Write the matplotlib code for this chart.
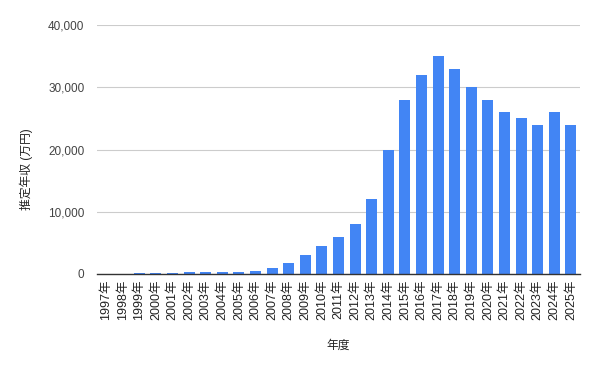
import numpy as np
import matplotlib
matplotlib.use('Agg')
import matplotlib.pyplot as plt
from matplotlib.ticker import FuncFormatter

plt.rcParams['font.family'] = ['Liberation Sans', 'Noto Sans CJK JP', 'DejaVu Sans']

years = [f"{y}年" for y in range(1997, 2026)]
income = [0, 0, 100, 100, 100, 300, 300, 300, 300, 500,
          1000, 1800, 3000, 4500, 6000, 8000, 12000, 20000, 28000, 32000,
          35000, 33000, 30000, 28000, 26000, 25000, 24000, 26000, 24000]

fig = plt.figure(figsize=(6.01, 3.71), dpi=100)
ax = fig.add_axes([97 / 601, 97 / 371, 483 / 601, 249 / 371])

x = np.arange(len(years))
ax.bar(x, income, width=0.66, color='#4285F4', zorder=3)

ax.set_xlim(-0.55, len(years) - 0.45)
ax.set_ylim(0, 40000)
ax.set_yticks([0, 10000, 20000, 30000, 40000])
ax.yaxis.set_major_formatter(FuncFormatter(lambda v, p: f"{int(v):,}"))
ax.set_xticks(x)
ax.set_xticklabels(years, rotation=90, fontsize=9, color='#222222')
ax.tick_params(axis='y', labelsize=8.5, colors='#444444', length=0, pad=9)
ax.tick_params(axis='x', length=0, pad=4)
ax.grid(axis='y', color='#cccccc', linewidth=0.8, zorder=0)

for s in ['top', 'right', 'left']:
    ax.spines[s].set_visible(False)
ax.spines['bottom'].set_color('#333333')
ax.spines['bottom'].set_linewidth(1)
ax.spines['bottom'].set_zorder(4)

ax.set_ylabel('推定年収 (万円)', fontsize=8.5, color='#222222')
ax.yaxis.set_label_coords(-0.133, 0.42)
ax.set_xlabel('年度', fontsize=8.5, color='#222222', labelpad=14)

fig.savefig('out.png', dpi=100)
